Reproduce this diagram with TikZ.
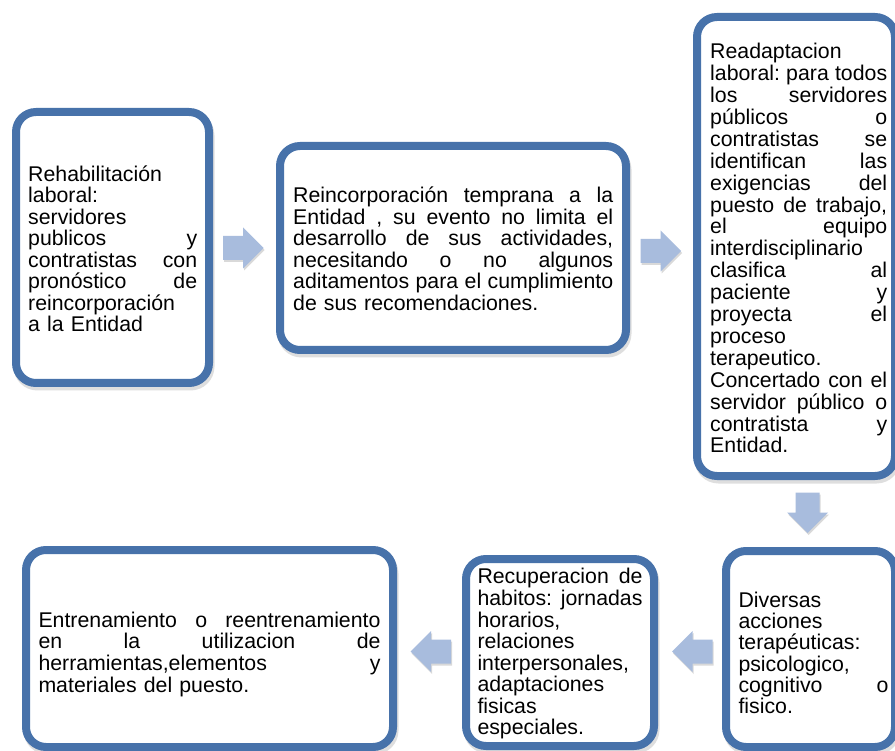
\documentclass[tikz,border=0pt]{standalone}
\usepackage{fontspec}
\setmainfont{Liberation Sans}
\usetikzlibrary{shadows}
\definecolor{bordblue}{RGB}{71,114,170}
\definecolor{arrblue}{RGB}{168,188,221}
\frenchspacing
\newlength\TW
\newcommand\JL[1]{\hbox to\TW{\frenchspacing\spaceskip=0.278em plus 1fil\relax\rule{0pt}{16pt}#1}}
\newcommand\LL[1]{\hbox to\TW{\frenchspacing\rule{0pt}{16pt}#1\hfil}}
\begin{document}
\begin{tikzpicture}[x=1pt, y=-1pt,
  box/.style={draw=bordblue, line width=8pt, fill=white, rounded corners=20pt,
    drop shadow={draw=black, line width=8pt, fill=black, opacity=0.13, shadow xshift=1.5pt, shadow yshift=-3.5pt}},
  txt/.style={inner sep=0pt, anchor=north west, font=\fontsize{21.3pt}{#1}\selectfont},
  barrow/.style={fill=arrblue, draw=none, drop shadow={opacity=0.15, fill=black, shadow xshift=1pt, shadow yshift=-2pt}}]
\fill[white] (0,0) rectangle (895,751);
\useasboundingbox (0,0) rectangle (895,751);

% boxes
\node[box, minimum width=193pt, minimum height=271pt] (b1) at (112.5,247.5) {};
\node[box, minimum width=346pt, minimum height=204pt] (b2) at (453,248) {};
\node[box, minimum width=198pt, minimum height=459pt] (b3) at (796,246.5) {};
\node[box, minimum width=169pt, minimum height=196pt] (b4) at (810.5,649) {};
\node[box, minimum width=188pt, minimum height=187pt] (b5) at (560,652.5) {};
\node[box, minimum width=367pt, minimum height=197pt] (b6) at (209.5,648.5) {};

% block arrows
\fill[barrow, shift={(243,248)}] (-20,-12) -- (0,-12) -- (0,-20.5) -- (20.5,0) -- (0,20.5) -- (0,12) -- (-20,12) -- cycle;
\fill[barrow, shift={(660.5,251)}] (-20,-12) -- (0,-12) -- (0,-20.5) -- (20.5,0) -- (0,20.5) -- (0,12) -- (-20,12) -- cycle;
\fill[barrow, shift={(807.5,512.5)}] (-12,-20) -- (-12,0) -- (-20.5,0) -- (0,20.5) -- (20.5,0) -- (12,0) -- (12,-20) -- cycle;
\fill[barrow, shift={(692.5,651.5)}] (20,-12) -- (0,-12) -- (0,-20.5) -- (-20.5,0) -- (0,20.5) -- (0,12) -- (20,12) -- cycle;
\fill[barrow, shift={(431,651.5)}] (20,-12) -- (0,-12) -- (0,-20.5) -- (-20.5,0) -- (0,20.5) -- (0,12) -- (20,12) -- cycle;

% texts
\node[txt=21.5pt, text width=169pt] (t1) at (28,165) {\setlength\TW{169pt}%
\LL{Rehabilitación}
\LL{laboral:}
\LL{servidores}
\JL{publicos y}
\JL{contratistas con}
\JL{pronóstico de}
\LL{reincorporación}
\LL{a la Entidad}};

\node[txt=21.5pt, text width=320pt] (t2) at (293,186.5) {\setlength\TW{320pt}%
\JL{Reincorporación temprana a la}
\JL{Entidad , su evento no limita el}
\JL{desarrollo de sus actividades,}
\JL{necesitando o no algunos}
\JL{aditamentos para el cumplimiento}
\LL{de sus recomendaciones.}};

\node[txt=21.9pt, text width=177pt] (t3) at (710,42.6) {\setlength\TW{177pt}%
\LL{Readaptacion}
\JL{laboral: para todos}
\JL{los servidores}
\JL{públicos o}
\JL{contratistas se}
\JL{identifican las}
\JL{exigencias del}
\JL{puesto de trabajo,}
\JL{el equipo}
\LL{interdisciplinario}
\JL{clasifica al}
\JL{paciente y}
\JL{proyecta el}
\LL{proceso}
\LL{terapeutico.}
\JL{Concertado con el}
\JL{servidor público o}
\JL{contratista y}
\LL{Entidad.}};

\node[txt=21.3pt, text width=150pt] (t4) at (738.3,591) {\setlength\TW{150pt}%
\LL{Diversas}
\LL{acciones}
\LL{terapéuticas:}
\LL{psicologico,}
\JL{cognitivo o}
\LL{fisico.}};

\node[txt=21.6pt, text width=165pt] (t5) at (477.3,567.6) {\setlength\TW{165pt}%
\JL{Recuperacion de}
\JL{habitos: jornadas}
\LL{horarios,}
\LL{relaciones}
\LL{interpersonales,}
\LL{adaptaciones}
\LL{fisicas}
\LL{especiales.}};

\node[txt=21.6pt, text width=342pt] (t6) at (38.3,611) {\setlength\TW{342pt}%
\JL{Entrenamiento o reentrenamiento}
\JL{en la utilizacion de}
\JL{herramientas,elementos y}
\LL{materiales del puesto.}};
\end{tikzpicture}
\end{document}
